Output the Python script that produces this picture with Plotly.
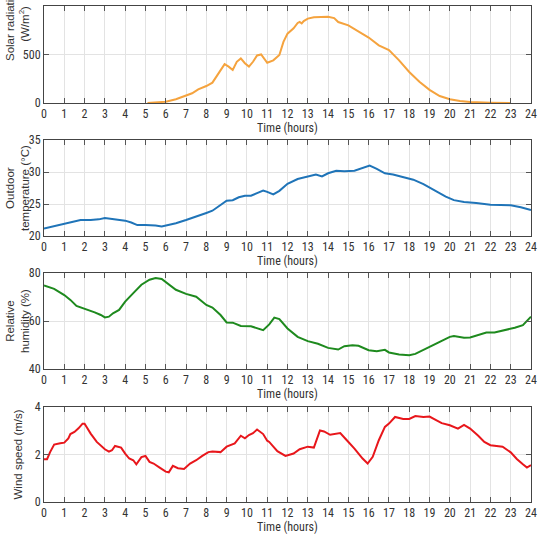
import plotly.graph_objects as go

# ---- data ----
solar_t = [5.1, 5.5, 6.0, 6.5, 7.0, 7.3, 7.6, 8.0, 8.3, 8.6, 8.9, 9.1, 9.3, 9.5, 9.7, 9.9, 10.1, 10.3, 10.5, 10.7,
           10.9, 11.0, 11.3, 11.5, 11.6, 11.8, 12.0, 12.3, 12.5, 12.6, 12.7, 12.8, 13.0, 13.3, 13.6, 14.0, 14.3,
           14.5, 15.0, 15.5, 16.0, 16.5, 17.0, 17.5, 18.0, 18.5, 19.0, 19.5, 20.0, 20.5, 21.0, 22.0, 23.0]
solar_v = [0, 5, 14, 38, 75, 100, 140, 175, 210, 300, 400, 375, 340, 425, 460, 410, 375, 425, 490, 500,
           440, 415, 440, 475, 495, 630, 715, 770, 825, 835, 820, 845, 870, 885, 890, 890, 875,
           835, 800, 735, 675, 595, 545, 440, 320, 220, 135, 72, 38, 20, 10, 3, 0]

temp_t = [0, 0.5, 1, 1.5, 1.8, 2.3, 2.7, 3, 3.5, 4, 4.3, 4.6, 5, 5.5, 5.8, 6.2, 6.5, 7, 7.5, 8, 8.3, 8.6, 9,
          9.3, 9.6, 9.9, 10.2, 10.5, 10.8, 11.0, 11.3, 11.6, 12, 12.5, 13, 13.4, 13.7, 14, 14.4, 14.8, 15.3,
          15.7, 16.05, 16.4, 16.8, 17.2, 17.8, 18.2, 18.7, 19.2, 19.8, 20.2, 20.7, 21.3, 22, 22.5, 23, 23.5, 24]
temp_v = [21.15, 21.5, 21.9, 22.3, 22.5, 22.5, 22.6, 22.8, 22.6, 22.4, 22.1, 21.7, 21.7, 21.65, 21.5, 21.8,
          22.0, 22.5, 23.0, 23.6, 23.95, 24.6, 25.5, 25.6, 26.05, 26.3, 26.3, 26.7, 27.1, 26.9, 26.5, 27.05,
          28.15, 28.9, 29.3, 29.6, 29.3, 29.8, 30.2, 30.1, 30.2, 30.6, 31.0, 30.5, 29.8, 29.6, 29.1, 28.8,
          28.1, 27.2, 26.15, 25.6, 25.3, 25.15, 24.9, 24.85, 24.8, 24.5, 24.05]

hum_t = [0, 0.5, 1, 1.3, 1.6, 2, 2.5, 2.8, 3, 3.2, 3.4, 3.7, 4, 4.4, 4.8, 5.2, 5.5, 5.8, 6.1, 6.5, 7, 7.5, 8,
         8.3, 8.7, 9, 9.3, 9.7, 10.2, 10.5, 10.8, 11.1, 11.35, 11.6, 12, 12.5, 13, 13.5, 14, 14.5, 14.8, 15.2,
         15.5, 16, 16.4, 16.8, 17, 17.5, 18, 18.3, 18.7, 19, 19.5, 20, 20.2, 20.7, 21, 21.5, 21.8, 22.2, 22.7,
         23.2, 23.6, 24]
hum_v = [74.8, 73.4, 70.8, 68.8, 66.3, 65.2, 63.6, 62.5, 61.5, 61.8, 63.2, 64.6, 68.1, 71.6, 75.1, 77.2, 77.9,
         77.5, 75.5, 73.0, 71.3, 70.1, 66.7, 65.6, 62.5, 59.4, 59.3, 57.9, 57.8, 56.9, 56.2, 58.6, 61.4, 60.8,
         56.9, 53.4, 51.6, 50.5, 48.8, 48.1, 49.5, 49.9, 49.7, 47.8, 47.4, 48.0, 46.9, 46.0, 45.7, 46.3, 47.8,
         49.2, 51.3, 53.4, 53.7, 53.0, 53.1, 54.4, 55.2, 55.2, 56.1, 57.2, 58.3, 61.8]

wind_t = [0, 0.15, 0.3, 0.5, 0.8, 1.0, 1.2, 1.3, 1.5, 1.7, 1.9, 2.0, 2.1, 2.3, 2.6, 2.8, 3.0, 3.2, 3.35, 3.5,
          3.8, 4.0, 4.2, 4.4, 4.55, 4.8, 5.0, 5.2, 5.4, 5.7, 6.0, 6.15, 6.35, 6.6, 6.9, 7.2, 7.5, 7.8, 8.1, 8.3,
          8.7, 9.0, 9.4, 9.7, 9.9, 10.1, 10.3, 10.5, 10.8, 11.0, 11.1, 11.5, 11.9, 12.3, 12.6, 13.0, 13.3, 13.6,
          13.8, 14.1, 14.6, 14.9, 15.3, 15.7, 15.95, 16.2, 16.5, 16.8, 17.0, 17.3, 17.7, 18.0, 18.3, 18.7, 19.0,
          19.3, 19.6, 20.0, 20.4, 20.7, 21.0, 21.4, 21.7, 22.0, 22.4, 22.6, 23.0, 23.3, 23.6, 23.8, 24.0]
wind_v = [1.8, 1.8, 2.1, 2.42, 2.47, 2.5, 2.68, 2.86, 2.95, 3.1, 3.3, 3.3, 3.16, 2.88, 2.53, 2.36, 2.22, 2.12,
          2.18, 2.36, 2.29, 2.04, 1.83, 1.76, 1.59, 1.89, 1.94, 1.69, 1.62, 1.45, 1.28, 1.25, 1.52, 1.42, 1.39,
          1.62, 1.76, 1.94, 2.1, 2.13, 2.1, 2.33, 2.47, 2.79, 2.68, 2.82, 2.9, 3.05, 2.86, 2.58, 2.53, 2.14,
          1.94, 2.04, 2.22, 2.33, 2.29, 3.01, 2.97, 2.83, 2.9, 2.62, 2.25, 1.83, 1.62, 1.9, 2.6, 3.16, 3.3,
          3.58, 3.5, 3.5, 3.62, 3.58, 3.6, 3.46, 3.32, 3.23, 3.09, 3.25, 3.09, 2.79, 2.53, 2.39, 2.33, 2.33,
          2.09, 1.81, 1.59, 1.45, 1.55]

hours = list(range(0, 25))

panels = [
    dict(t=solar_t, v=solar_v, color="#F5A33E", rng=[0, 1000], ticks=[0, 500, 1000],
         title="Solar radiation<br>(W/m<sup>2</sup>)", dom=(6, 103), title_y=24),
    dict(t=temp_t, v=temp_v, color="#1F74B8", rng=[20, 35], ticks=[20, 25, 30, 35],
         title="Outdoor<br>temperature (°C)", dom=(140, 236), title_y=None),
    dict(t=hum_t, v=hum_v, color="#1E8A1E", rng=[40, 80], ticks=[40, 60, 80],
         title="Relative<br>humidity (%)", dom=(273, 369), title_y=None),
    dict(t=wind_t, v=wind_v, color="#E8161B", rng=[0, 4], ticks=[0, 2, 4],
         title="Wind speed (m/s)", dom=(407, 502), title_y=None),
]

W, H = 539, 538
fig = go.Figure()
tickfont = dict(family="Liberation Sans Narrow, Arial Narrow, Roboto Condensed, sans-serif", size=12, color="#333")
annotations = []
for i, p in enumerate(panels):
    n = "" if i == 0 else str(i + 1)
    fig.add_trace(go.Scatter(x=p["t"], y=p["v"], mode="lines", line=dict(color=p["color"], width=2),
                             xaxis="x" + n, yaxis="y" + n, showlegend=False, hoverinfo="skip"))
    top, bot = p["dom"]
    fig.layout["xaxis" + n] = dict(
        domain=[44 / W, 531 / W], anchor="y" + n, range=[0, 24], tickvals=hours,
        ticks="inside", ticklen=5, tickcolor="#555", mirror="ticks", showline=True,
        linecolor="#444", linewidth=1, showgrid=True, gridcolor="#E3E3E3", gridwidth=1,
        zeroline=False, tickfont=tickfont, automargin=False,
        title=dict(text="Time (hours)", font=tickfont, standoff=2))
    fig.layout["yaxis" + n] = dict(
        domain=[1 - bot / H, 1 - top / H], anchor="x" + n, range=p["rng"], tickvals=p["ticks"],
        ticks="inside", ticklen=5, tickcolor="#555", mirror="ticks", showline=True,
        linecolor="#444", linewidth=1, showgrid=True, gridcolor="#E3E3E3", gridwidth=1,
        zeroline=False, tickfont=tickfont, automargin=False)
    cy = p["title_y"] if p["title_y"] is not None else (top + bot) / 2
    annotations.append(dict(text=p["title"], textangle=-90, xref="paper", yref="paper",
                            x=17 / W, y=1 - cy / H, xanchor="center", yanchor="middle",
                            showarrow=False, font=dict(family="Liberation Sans, Arial, sans-serif",
                                                       size=11.5, color="#333")))

fig.update_layout(width=W, height=H, margin=dict(l=0, r=0, t=0, b=0),
                  plot_bgcolor="white", paper_bgcolor="white", annotations=annotations)
fig.write_html("out.html", config={"displayModeBar": False},
               post_script="document.body.style.margin='0px';document.body.style.overflow='hidden';")
